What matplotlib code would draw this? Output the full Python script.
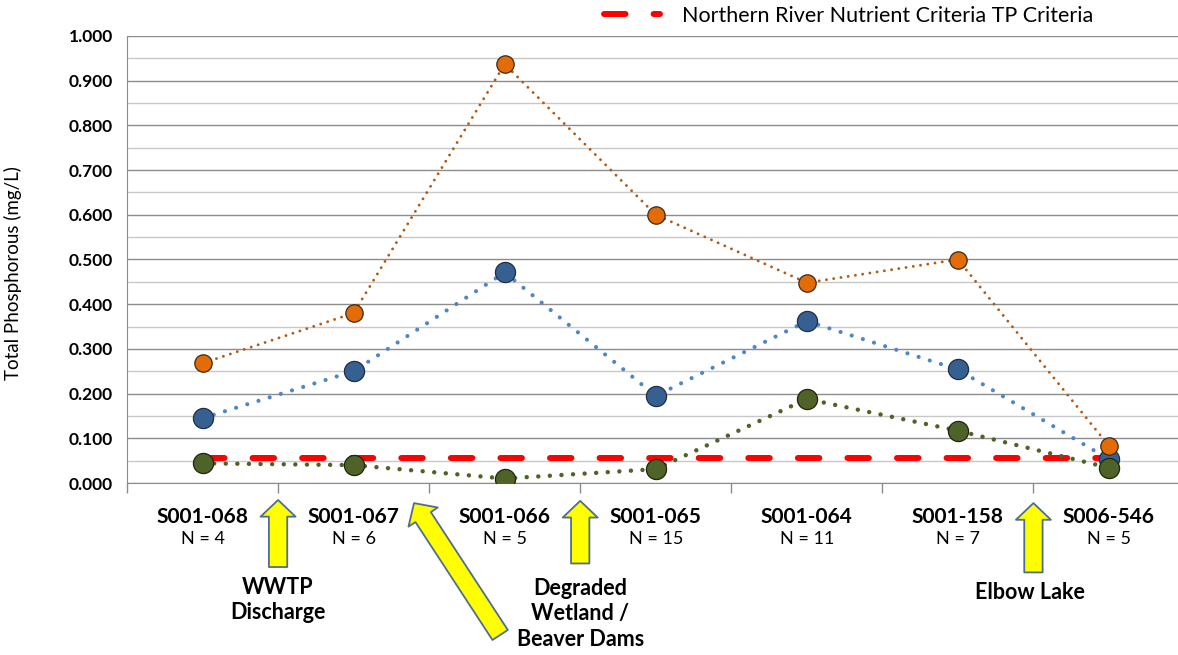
import numpy as np
import matplotlib
matplotlib.use("Agg")
from matplotlib import pyplot as plt
from matplotlib.ticker import MultipleLocator, FormatStrFormatter

sites = ["S001-068", "S001-067", "S001-066", "S001-065", "S001-064", "S001-158", "S006-546"]
n_samples = [4, 6, 5, 15, 11, 7, 5]

tp_max = [0.268, 0.380, 0.937, 0.600, 0.448, 0.500, 0.083]
tp_mean = [0.145, 0.250, 0.471, 0.195, 0.362, 0.254, 0.053]
tp_min = [0.044, 0.040, 0.010, 0.031, 0.188, 0.117, 0.034]
criteria = [0.055] * len(sites)

# arrows under the axis: (label, tip x, tip y, tail x, tail y, label x, label y)
notes = [
    ("WWTP\nDischarge", 0.5, -0.038, 0.5, -0.188, 0.5, -0.262),
    (None, 1.40, -0.045, 1.97, -0.340, None, None),
    ("Degraded\nWetland /\nBeaver Dams", 2.5, -0.040, 2.5, -0.180, 2.5, -0.293),
    ("Elbow Lake", 5.5, -0.045, 5.5, -0.200, 5.48, -0.246),
]

plt.rcParams['font.family'] = ['Lato', 'DejaVu Sans']

fig = plt.figure(figsize=(11.78, 6.55), dpi=100)
ax = fig.add_axes([127 / 1178, 172 / 655, 1051 / 1178, 447 / 655])
x = np.arange(len(sites))

ax.plot(x, criteria, color="#FF0000", lw=4.3, dashes=(3.6, 4.7),
        dash_capstyle="round", zorder=2, label="Northern River Nutrient Criteria TP Criteria")

ax.plot(x, tp_mean, color="#4F86C6", lw=3.0, dashes=(0.01, 2.8), dash_capstyle="round",
        marker="o", ms=14.5, mfc="#376092", mec="#1F2F40", mew=0.9, zorder=3)
ax.plot(x, tp_max, color="#B35A12", lw=2.1, dashes=(0.01, 2.5), dash_capstyle="round",
        marker="o", ms=12.5, mfc="#E36C09", mec="#3A2A1A", mew=0.9, zorder=4)
ax.plot(x, tp_min, color="#4F6228", lw=3.2, dashes=(0.01, 2.6), dash_capstyle="round",
        marker="o", ms=14.5, mfc="#4F6228", mec="#1E2610", mew=0.9, zorder=5)

ax.set_xlim(-0.5, 6.457)
ax.set_ylim(0, 1.0)
ax.yaxis.set_major_locator(MultipleLocator(0.1))
ax.yaxis.set_minor_locator(MultipleLocator(0.05))
ax.yaxis.set_major_formatter(FormatStrFormatter("%.3f"))
ax.grid(axis="y", which="major", color="#8C8C8C", lw=1.0, zorder=0)
ax.grid(axis="y", which="minor", color="#C8C8C8", lw=1.0, zorder=0)
ax.set_axisbelow(True)
for s in ["top", "right"]:
    ax.spines[s].set_visible(False)
ax.spines["left"].set_color("#8C8C8C")
ax.spines["bottom"].set_color("#8C8C8C")
ax.tick_params(axis="y", which="both", length=0, pad=10)
for lab in ax.get_yticklabels():
    lab.set_fontweight("bold")
    lab.set_fontsize(12.5)

ax.set_xticks(x)
ax.set_xticklabels(sites, fontsize=15, fontweight="bold")
ax.tick_params(axis="x", which="major", length=0, pad=17)
ax.set_xticks(np.arange(-0.5, 6, 1), minor=True)
ax.tick_params(axis="x", which="minor", length=7, color="#8C8C8C", width=1)

for i, n in enumerate(n_samples):
    ax.annotate(f"N = {n}", xy=(i, 0), xytext=(0, -40), textcoords="offset points",
                ha="center", va="center", fontsize=13, annotation_clip=False)

ax.set_ylabel("Total Phosphorous (mg/L)", fontsize=13.5)
ax.yaxis.set_label_coords(-0.1, 0.47)

for label, tx, ty, sx, sy, lx, ly in notes:
    ax.annotate("", xy=(tx, ty), xytext=(sx, sy), annotation_clip=False,
                arrowprops=dict(arrowstyle="simple,head_length=1.0,head_width=2.1,tail_width=1.1",
                                mutation_scale=12, fc="#FFFF00", ec="#4F6D8F", lw=1.3,
                                shrinkA=0, shrinkB=0))
    if label:
        ax.text(lx, ly, label, ha="center", va="center", fontsize=15.5, fontweight="bold",
                linespacing=1.25, clip_on=False)

fig.legend(loc="center left", bbox_to_anchor=(585 / 1178, 1 - 16 / 655), frameon=False,
           fontsize=15.5, handlelength=2.6, handletextpad=1.0)

fig.savefig("out.png", dpi=100)
